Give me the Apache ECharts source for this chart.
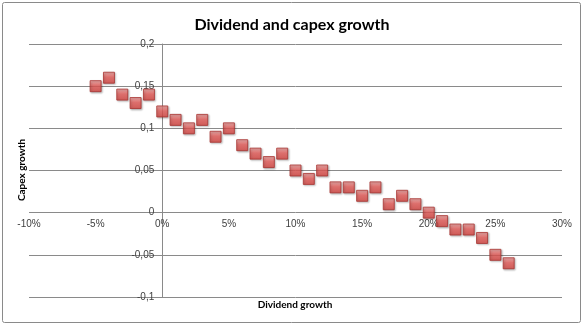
<!DOCTYPE html>
<html>
<head>
<meta charset="utf-8">
<script src="https://cdn.jsdelivr.net/npm/echarts@6/dist/echarts.min.js"></script>
<style>
html,body{margin:0;padding:0;background:#fff;}
#c{width:584px;height:326px;}
</style>
</head>
<body>
<div id="c"></div>
<script>
// Data
var dividendGrowth = [-5,-4,-3,-2,-1,0,1,2,3,4,5,6,7,8,9,10,11,12,13,14,15,16,17,18,19,20,21,22,23,24,25,26]; // percent
var capexGrowth = [0.15,0.16,0.14,0.13,0.14,0.12,0.11,0.10,0.11,0.09,0.10,0.08,0.07,0.06,0.07,0.05,0.04,0.05,0.03,0.03,0.02,0.03,0.01,0.02,0.01,0.00,-0.01,-0.02,-0.02,-0.03,-0.05,-0.06];
var titleText = 'Dividend and capex growth';
var xName = 'Dividend growth';
var yName = 'Capex growth';

var points = dividendGrowth.map(function(x,i){return [x, capexGrowth[i]];});
var chart = echarts.init(document.getElementById('c'), null, {renderer:'canvas'});
var font = '"Liberation Sans", Arial, sans-serif';
var gl = 29, gr = 22, gt = 44, gb = 29;
var gw = 584 - gl - gr, gh = 326 - gt - gb;
var xMin = -10, xMax = 30, yMin = -0.1, yMax = 0.2;
var yOff = -(gw * (0 - xMin) / (xMax - xMin));
var xOff = -(gh * (0 - yMin) / (yMax - yMin));
chart.setOption({
  animation:false,
  title:{text:titleText,left:'center',top:12,textStyle:{fontFamily:'Lato, sans-serif',fontWeight:'bold',fontSize:16,color:'#000'}},
  grid:{left:gl,right:gr,top:gt,bottom:gb,containLabel:false,outerBoundsMode:'none'},
  xAxis:{type:'value',min:xMin,max:xMax,interval:5,position:'bottom',offset:xOff,
    axisLine:{show:false,onZero:false},axisTick:{show:false},splitLine:{show:false},
    axisLabel:{formatter:'{value}%',fontFamily:font,fontSize:10,color:'#404040',margin:7}},
  yAxis:{type:'value',min:yMin,max:yMax,interval:0.05,position:'left',offset:yOff,
    axisLine:{show:true,onZero:false,lineStyle:{color:'#8a8a8a',width:1}},
    axisTick:{show:false},
    splitLine:{show:true,lineStyle:{color:'#8a8a8a',width:1}},
    axisLabel:{fontFamily:font,fontSize:10,color:'#404040',margin:8,
      formatter:function(v){return String(Math.round(v*100)/100).replace('.',',');}}},
  graphic:[
    {type:'rect',shape:{x:2.5,y:2.5,width:578,height:320,r:2},style:{fill:'none',stroke:'#8a8a8a',lineWidth:1},silent:true,z:-1},
    {type:'text',x:295,y:300,style:{text:xName,font:'bold 10px Lato, sans-serif',fill:'#000',align:'center'}},
    {type:'text',x:17,y:170,rotation:Math.PI/2,style:{text:yName,font:'bold 10px Lato, sans-serif',fill:'#000',align:'center',verticalAlign:'top'}}
  ],
  series:[{type:'scatter',data:points,symbol:'rect',symbolSize:11,
    itemStyle:{color:new echarts.graphic.LinearGradient(0,0,0,1,[{offset:0,color:'#f4a4a2'},{offset:0.45,color:'#e35a57'},{offset:1,color:'#d2403c'}]),
      borderColor:'#a8322f',borderWidth:1,shadowColor:'rgba(0,0,0,0.3)',shadowBlur:2,shadowOffsetX:1,shadowOffsetY:1}}]
});
</script>
</body>
</html>
